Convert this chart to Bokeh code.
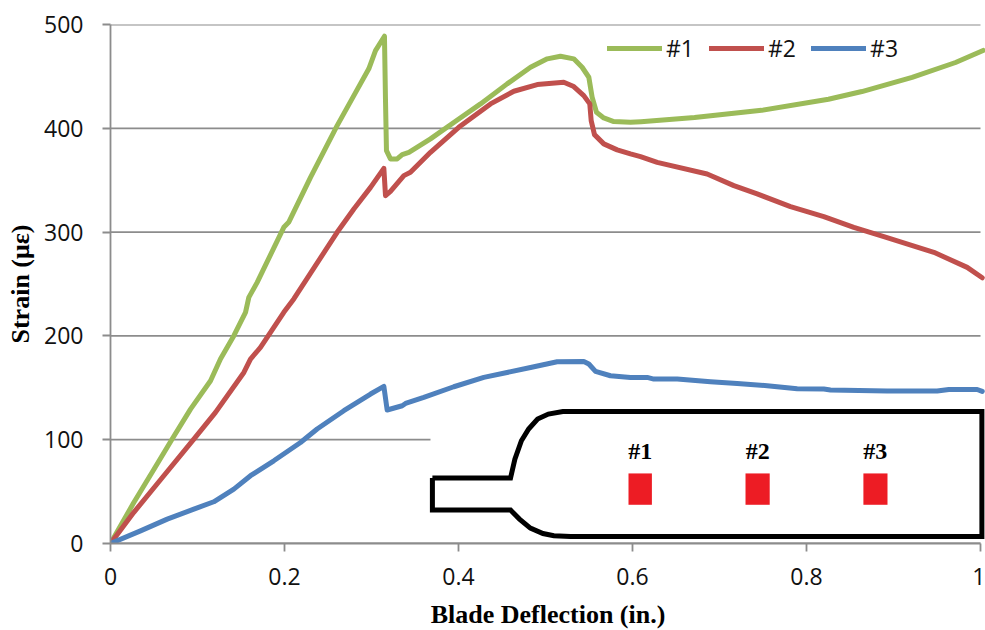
from bokeh.embed import file_html
from bokeh.resources import INLINE
from bokeh.plotting import figure
from bokeh.models import Range1d, Legend, LegendItem, FixedTicker
from bokeh.core.properties import value

# ---- chart data ----
x_ticks = [0, 0.2, 0.4, 0.6, 0.8, 1]
x_tick_labels = ["0", "0.2", "0.4", "0.6", "0.8", "1"]
y_ticks = [0, 100, 200, 300, 400, 500]
series_names = ["#1", "#2", "#3"]

s1_x = [0, .0268, .0498, .0709, .092, .115, .1264, .1418, .1552, .159, .1686, .1992, .2048, .2299, .2605, .2797,
        .2969, .3046, .3149, .3161, .3172, .3218, .3295, .3353, .343, .3678, .4003, .4253, .4559, .4828, .502,
        .5172, .5325, .5421, .5498, .5536, .5586, .567, .5785, .5977, .6097, .6713, .7483, .8252, .8637, .9214,
        .9713, 1.003]
s1_y = [0, 39.5, 71.3, 100.6, 129.5, 156.8, 177.7, 200.2, 222.7, 237.1, 251.6, 304.6, 309.4, 352.8, 402.6, 431.5,
        457.3, 474.9, 488.7, 426.7, 378.5, 370.5, 370.5, 374.7, 376.9, 389.8, 409, 423.5, 442.8, 458.8, 466.9,
        469.4, 466.9, 458.8, 449.2, 429.9, 415.4, 410, 406.5, 405.8, 406.4, 410.3, 417.3, 428, 435.4, 449,
        463.4, 475]

s2_x = [0, .0268, .0575, .0958, .1207, .1533, .1609, .1724, .1839, .1992, .2107, .2605, .2797, .2989, .3142, .3161,
        .3218, .3372, .3448, .3678, .4003, .4368, .4636, .4905, .521, .5325, .544, .5509, .5525, .5563, .567, .5824,
        .5977, .6092, .6284, .6858, .7165, .7433, .7816, .8199, .8544, .8889, .9464, .9847, 1.002]
s2_y = [0, 30, 61.4, 100.6, 126.3, 164.8, 177.7, 188.9, 203.4, 222.7, 235.6, 299.8, 322.3, 343.1, 361.4, 335.1,
        339.3, 354.4, 357.6, 376.9, 401, 423.5, 435.7, 442.1, 444.3, 440.2, 431.5, 423.5, 407.4, 393.9, 385, 379.2,
        375.3, 372.7, 367.2, 356, 344.8, 336.8, 324.5, 314.9, 304.6, 295.6, 280.5, 266, 256]

s3_x = [0, .0345, .0652, .0958, .1187, .1418, .1609, .1877, .2184, .2375, .2682, .2989, .3142, .318, .3353, .3391,
        .3601, .3946, .4291, .4828, .5134, .544, .5498, .5575, .5747, .5977, .6169, .6245, .6514, .6897, .7203,
        .7548, .7893, .8199, .8276, .8927, .9502, .9636, .9962, 1.002]
s3_y = [0, 12.2, 23.5, 33.1, 40.2, 52.4, 65.3, 79.7, 97.3, 110.3, 127.9, 144, 151.3, 128.6, 132.7, 134.9,
        140.7, 151, 160, 169.6, 175.1, 175.4, 172.9, 165.8, 161.6, 160, 160, 158.4, 158.4, 155.9, 154.2,
        152, 149.1, 148.8, 147.9, 146.9, 146.9, 148.4, 148.4, 146.5]

# inset sketch of the blade, in chart units
blade_x = [.37, .4598, .4648, .4723, .4806, .4909, .5033, .5199, 1.0016, 1.0016,
           .5287, .5096, .4971, .4826, .4701, .4598, .37, .37]
blade_y = [63.0, 63.0, 81.3, 99, 110.3, 119.9, 124.7, 127.2, 127.2, 6.7,
           6.7, 7.4, 9.6, 14.8, 23.5, 32.2, 32.2, 63.0]
gauge_names = ["#1", "#2", "#3"]
gauge_left = [.5954, .7299, .8654]
gauge_right = [.6223, .7577, .8931]
gauge_top = [67.5]
gauge_bottom = [37.3]
gauge_label_x = [.609, .744, .879]
gauge_label_y = [89]
grid_end = [1, .3678, 1, 1, 1, 1]

GREY = "#8c8c8c"
TICK_FONT = "Open Sans"
TITLE_FONT = "Liberation Serif"

p = figure(width=985, height=630, frame_width=875, frame_height=519, output_backend="svg", toolbar_location=None,
           x_range=Range1d(0, 875 / 870), y_range=Range1d(0, 500),
           min_border_left=110, min_border_right=0, min_border_top=24, min_border_bottom=87)
p.outline_line_color = None
p.grid.visible = False

# horizontal gridlines stop at the inset and at x=1
p.segment(x0=[0] * 6, x1=grid_end, y0=y_ticks, y1=y_ticks, line_color=GREY, line_width=1.8)

colors = ["#9BBB59", "#C0504D", "#4F81BD"]
r1 = p.line(s1_x, s1_y, line_color=colors[0], line_width=5, line_join="round", line_cap="round")
r2 = p.line(s2_x, s2_y, line_color=colors[1], line_width=5, line_join="round", line_cap="round")
r3 = p.line(s3_x, s3_y, line_color=colors[2], line_width=5, line_join="round", line_cap="round")

# inset
p.line(blade_x, blade_y, line_color="black", line_width=5, line_join="miter")
p.quad(left=gauge_left, right=gauge_right, top=gauge_top * 3, bottom=gauge_bottom * 3,
       fill_color="#ED1C24", line_color=None)
p.text(x=gauge_label_x, y=gauge_label_y * 3, text=gauge_names, text_align="center", text_baseline="middle",
       text_font=value(TITLE_FONT), text_font_style="bold", text_font_size="24px", text_color="black")

# axes
for ax in (p.xaxis[0], p.yaxis[0]):
    ax.axis_line_color = GREY
    ax.axis_line_width = 1.8
    ax.major_tick_line_color = GREY
    ax.major_tick_line_width = 1.8
    ax.major_tick_out = 8
    ax.major_tick_in = 0
    ax.minor_tick_line_color = None
    ax.major_label_text_font = TICK_FONT
    ax.major_label_text_font_size = "23px"
    ax.major_label_text_color = "#111111"
    ax.axis_label_text_font = TITLE_FONT
    ax.axis_label_text_font_style = "bold"
    ax.axis_label_text_font_size = "26px"
    ax.axis_label_text_color = "black"

p.xaxis[0].bounds = (0, 1)
p.xaxis[0].ticker = FixedTicker(ticks=x_ticks)
p.xaxis[0].major_label_overrides = {t: l for t, l in zip(x_ticks, x_tick_labels)}
p.xaxis[0].major_label_standoff = 16
p.xaxis[0].axis_label = "Blade Deflection (in.)"
p.xaxis[0].axis_label_standoff = 12

p.yaxis[0].ticker = FixedTicker(ticks=y_ticks)
p.yaxis[0].major_label_standoff = 19
p.yaxis[0].axis_label = "Strain (με)"
p.yaxis[0].axis_label_standoff = 6

legend = Legend(items=[LegendItem(label=series_names[0], renderers=[r1]),
                       LegendItem(label=series_names[1], renderers=[r2]),
                       LegendItem(label=series_names[2], renderers=[r3])],
                orientation="horizontal", location=(497, 479),
                glyph_width=55, glyph_height=24, label_standoff=4, spacing=15, padding=0, margin=0,
                background_fill_alpha=0, border_line_color=None,
                label_text_font=TICK_FONT, label_text_font_size="23px", label_text_color="#111111")
p.add_layout(legend)

open("out.html", "w").write(file_html(p, INLINE))
